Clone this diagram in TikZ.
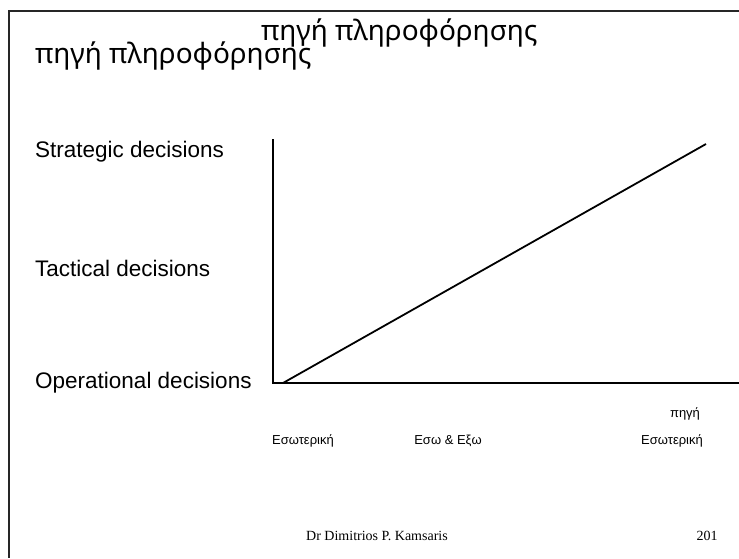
\documentclass[tikz,border=0pt]{standalone}
\usepackage{fontspec}
\setmainfont{Liberation Sans}
\newfontfamily\titlefont{Noto Sans}
\newfontfamily\footfont{Liberation Serif}
\begin{document}
\begin{tikzpicture}[x=1pt,y=-1pt,
  frameline/.style={line width=2pt,black!85},
  axisline/.style={line width=1.4pt,black},
  trendline/.style={line width=1.8pt,black},
  titletext/.style={inner sep=0pt,font=\titlefont\fontsize{28}{32}\selectfont},
  leveltext/.style={inner sep=0pt,anchor=west,font=\fontsize{22.5}{26}\selectfont},
  sourcetext/.style={inner sep=0pt,font=\fontsize{13}{15}\selectfont},
  foottext/.style={inner sep=0pt,font=\footfont\fontsize{14}{16}\selectfont}]
\useasboundingbox (0,0) rectangle (739,558);
% page frame: top and left edges
\coordinate (ftl) at (9,11);
\coordinate (ftr) at (739,11);
\coordinate (fbl) at (9,558);
\draw[frameline] (ftr) -- (ftl) -- (fbl);
% titles
\node[titletext,anchor=base west] (title1) at (261,40) {πηγή πληροφόρησης};
\node[titletext,anchor=base west] (title2) at (35,63) {πηγή πληροφόρησης};
% decision levels
\node[leveltext] (strategic) at (35,152) {Strategic decisions};
\node[leveltext] (tactical) at (35,268) {Tactical decisions};
\node[leveltext] (operational) at (35,383) {Operational decisions};
% axes
\coordinate (ytop) at (273,139);
\coordinate (origin) at (273,383);
\coordinate (xend) at (739,383);
\draw[axisline] (ytop) -- (origin) -- (xend);
% trend line
\coordinate (tstart) at (283,383);
\coordinate (tend) at (706,144);
\draw[trendline] (tstart) -- (tend);
% information sources
\node[sourcetext] (internal) at (303,441) {Εσωτερική};
\node[sourcetext] (mixed) at (448,441) {Εσω \& Εξω};
\node[sourcetext] (source) at (685,414) {πηγή};
\node[sourcetext] (internal2) at (672,441) {Εσωτερική};
% footer
\node[foottext] (author) at (377,536) {Dr Dimitrios P. Kamsaris};
\node[foottext] (page) at (707,536) {201};
\end{tikzpicture}
\end{document}
